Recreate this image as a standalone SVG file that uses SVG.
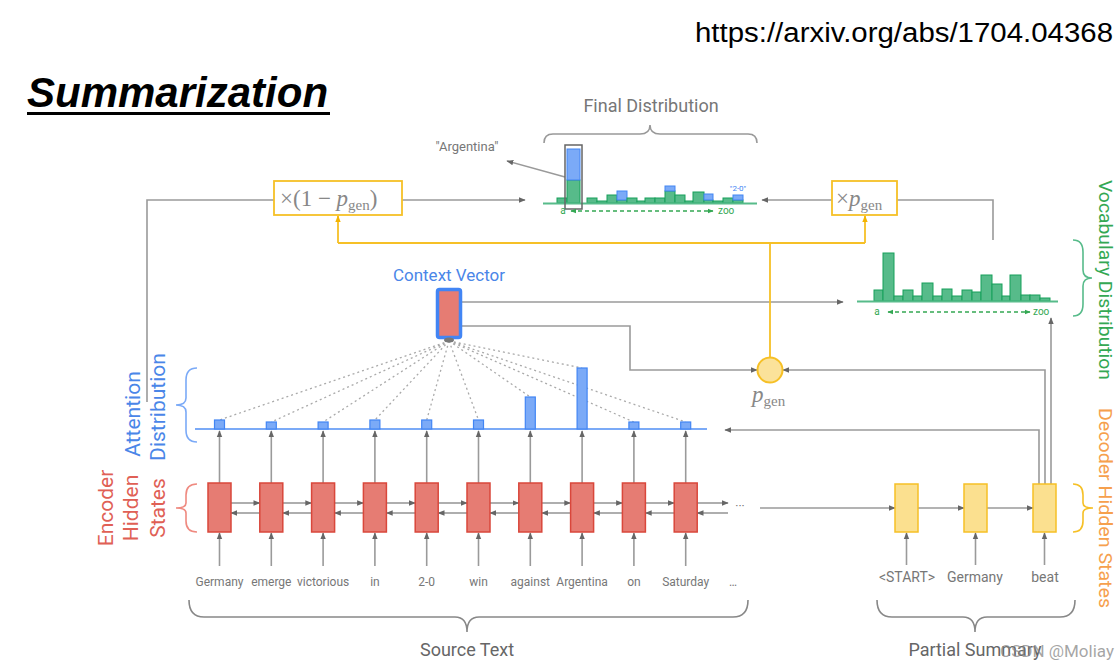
<svg xmlns="http://www.w3.org/2000/svg" width="1120" height="670" viewBox="0 0 1120 670">
<defs>
<marker id="ah" viewBox="0 0 10 10" refX="9" refY="5" markerWidth="7" markerHeight="7" orient="auto" markerUnits="userSpaceOnUse"><path d="M0,1 L10,5 L0,9 z" fill="#666"/></marker>
<marker id="ay" viewBox="0 0 10 10" refX="9" refY="5" markerWidth="7" markerHeight="7" orient="auto" markerUnits="userSpaceOnUse"><path d="M0,1 L10,5 L0,9 z" fill="#f4b400"/></marker>
<marker id="ag" viewBox="0 0 10 10" refX="9" refY="5" markerWidth="6" markerHeight="6" orient="auto-start-reverse" markerUnits="userSpaceOnUse"><path d="M0,1 L10,5 L0,9 z" fill="#34a853"/></marker>
<style>
.ln{fill:none;stroke:#9a9a9a;stroke-width:1.6}
.la{fill:none;stroke:#9a9a9a;stroke-width:1.6;marker-end:url(#ah)}
.yl{fill:none;stroke:#f6c026;stroke-width:1.8}
.ya{fill:none;stroke:#f6c026;stroke-width:1.8;marker-end:url(#ay)}
.dot{fill:none;stroke:#aaa;stroke-width:1.3;stroke-dasharray:2 3}
.enc{fill:#e67c73;stroke:#d9473b;stroke-width:1.5}
.dec{fill:#fbe08f;stroke:#f6c026;stroke-width:1.5}
.att{fill:#7baaf7;stroke:#4285f4;stroke-width:1.2}
.gb{fill:#57bb8a;stroke:#16a05a;stroke-width:1}
.bb{fill:#7baaf7;stroke:#4285f4;stroke-width:1}
.w{font-family:Roboto,"Liberation Sans",sans-serif;font-size:12px;fill:#777;text-anchor:middle}
.wd{font-family:Roboto,"Liberation Sans",sans-serif;font-size:14px;fill:#777;text-anchor:middle}
.lbl{font-family:Roboto,"Liberation Sans",sans-serif;text-anchor:middle}
.math{font-family:"Liberation Serif","DejaVu Serif",serif;fill:#888}
.br{fill:none;stroke-width:1.6}
</style>
</defs>

<!-- titles -->
<text x="27" y="107" font-family="Liberation Sans,Arial,sans-serif" font-size="42" font-weight="bold" font-style="italic" fill="#000">Summarization</text>
<rect x="27" y="112" width="303" height="3" fill="#000"/>
<text x="695" y="42" font-family="Liberation Sans,Arial,sans-serif" font-size="27" fill="#000" textLength="418" lengthAdjust="spacingAndGlyphs">https://arxiv.org/abs/1704.04368</text>

<!-- connectors -->
<g id="connectors">
  <!-- encoder inputs -->
  <line class="la" x1="219.5" y1="566" x2="219.5" y2="533"/>
  <line class="la" x1="271.3" y1="566" x2="271.3" y2="533"/>
  <line class="la" x1="323.1" y1="566" x2="323.1" y2="533"/>
  <line class="la" x1="374.9" y1="566" x2="374.9" y2="533"/>
  <line class="la" x1="426.7" y1="566" x2="426.7" y2="533"/>
  <line class="la" x1="478.5" y1="566" x2="478.5" y2="533"/>
  <line class="la" x1="530.3" y1="566" x2="530.3" y2="533"/>
  <line class="la" x1="582.1" y1="566" x2="582.1" y2="533"/>
  <line class="la" x1="633.9" y1="566" x2="633.9" y2="533"/>
  <line class="la" x1="685.7" y1="566" x2="685.7" y2="533"/>
  <!-- encoder to attention -->
  <line class="la" x1="219.5" y1="483" x2="219.5" y2="431"/>
  <line class="la" x1="271.3" y1="483" x2="271.3" y2="431"/>
  <line class="la" x1="323.1" y1="483" x2="323.1" y2="431"/>
  <line class="la" x1="374.9" y1="483" x2="374.9" y2="431"/>
  <line class="la" x1="426.7" y1="483" x2="426.7" y2="431"/>
  <line class="la" x1="478.5" y1="483" x2="478.5" y2="431"/>
  <line class="la" x1="530.3" y1="483" x2="530.3" y2="431"/>
  <line class="la" x1="582.1" y1="483" x2="582.1" y2="431"/>
  <line class="la" x1="633.9" y1="483" x2="633.9" y2="431"/>
  <line class="la" x1="685.7" y1="483" x2="685.7" y2="431"/>
  <!-- encoder forward -->
  <line class="la" x1="231" y1="503" x2="259.8" y2="503"/>
  <line class="la" x1="282.8" y1="503" x2="311.6" y2="503"/>
  <line class="la" x1="334.6" y1="503" x2="363.4" y2="503"/>
  <line class="la" x1="386.4" y1="503" x2="415.2" y2="503"/>
  <line class="la" x1="438.2" y1="503" x2="467" y2="503"/>
  <line class="la" x1="490" y1="503" x2="518.8" y2="503"/>
  <line class="la" x1="541.8" y1="503" x2="570.6" y2="503"/>
  <line class="la" x1="593.6" y1="503" x2="622.4" y2="503"/>
  <line class="la" x1="645.4" y1="503" x2="674.2" y2="503"/>
  <line class="la" x1="697.2" y1="503" x2="728" y2="503"/>
  <!-- encoder backward -->
  <line class="la" x1="259.8" y1="513" x2="231" y2="513"/>
  <line class="la" x1="311.6" y1="513" x2="282.8" y2="513"/>
  <line class="la" x1="363.4" y1="513" x2="334.6" y2="513"/>
  <line class="la" x1="415.2" y1="513" x2="386.4" y2="513"/>
  <line class="la" x1="467" y1="513" x2="438.2" y2="513"/>
  <line class="la" x1="518.8" y1="513" x2="490" y2="513"/>
  <line class="la" x1="570.6" y1="513" x2="541.8" y2="513"/>
  <line class="la" x1="622.4" y1="513" x2="593.6" y2="513"/>
  <line class="la" x1="674.2" y1="513" x2="645.4" y2="513"/>
  <line class="la" x1="728" y1="513" x2="697.2" y2="513"/>
  <!-- dotted attention lines -->
  <path class="dot" d="M449,341L219.5,420 M449,341L271.3,422 M449,341L323.1,422 M449,341L374.9,420 M449,341L426.7,420 M449,341L478.5,420 M449,341L530.3,397 M449,341L582.1,368 M449,341L633.9,422 M449,341L685.7,422"/>
  <!-- context vector outputs -->
  <path class="la" d="M461,302H843"/>
  <path class="la" d="M461,326H630V370H757"/>
  <!-- decoder -->
  <line class="la" x1="760" y1="508" x2="895" y2="508"/>
  <line class="la" x1="918" y1="508" x2="964" y2="508"/>
  <line class="la" x1="987" y1="508" x2="1033" y2="508"/>
  <line class="la" x1="906.5" y1="565" x2="906.5" y2="533"/>
  <line class="la" x1="975.5" y1="565" x2="975.5" y2="533"/>
  <line class="la" x1="1044.5" y1="565" x2="1044.5" y2="533"/>
  <path class="la" d="M1039,484V430H725"/>
  <path class="la" d="M1045,484V370H783"/>
  <path class="la" d="M1051,484V318"/>
  <!-- to final distribution -->
  <path class="ln" d="M147,402V200H274"/>
  <path class="la" d="M402,200H525"/>
  <path class="la" d="M832,200H762"/>
  <path class="ln" d="M897,200H993V240"/>
  <!-- p_gen yellow -->
  <path class="yl" d="M770,357V243 M338,243H865"/>
  <path class="ya" d="M338,243V216"/>
  <path class="ya" d="M865,243V216"/>
  <!-- argentina pointer -->
  <path class="la" d="M565,177L507,161"/>
</g>

<!-- encoder nodes -->
<g id="encoder">
  <rect id="enc0" class="enc" x="208" y="483" width="23" height="49"/>
  <rect id="enc1" class="enc" x="259.8" y="483" width="23" height="49"/>
  <rect id="enc2" class="enc" x="311.6" y="483" width="23" height="49"/>
  <rect id="enc3" class="enc" x="363.4" y="483" width="23" height="49"/>
  <rect id="enc4" class="enc" x="415.2" y="483" width="23" height="49"/>
  <rect id="enc5" class="enc" x="467" y="483" width="23" height="49"/>
  <rect id="enc6" class="enc" x="518.8" y="483" width="23" height="49"/>
  <rect id="enc7" class="enc" x="570.6" y="483" width="23" height="49"/>
  <rect id="enc8" class="enc" x="622.4" y="483" width="23" height="49"/>
  <rect id="enc9" class="enc" x="674.2" y="483" width="23" height="49"/>
  <text x="740" y="510" class="w" font-size="14">···</text>
</g>

<g id="words">
  <text class="w" x="219.5" y="586">Germany</text>
  <text class="w" x="271.3" y="586">emerge</text>
  <text class="w" x="323.1" y="586">victorious</text>
  <text class="w" x="374.9" y="586">in</text>
  <text class="w" x="426.7" y="586">2-0</text>
  <text class="w" x="478.5" y="586">win</text>
  <text class="w" x="530.3" y="586">against</text>
  <text class="w" x="582.1" y="586">Argentina</text>
  <text class="w" x="633.9" y="586">on</text>
  <text class="w" x="685.7" y="586">Saturday</text>
  <text class="w" x="733" y="586" font-size="14">…</text>
</g>

<!-- attention distribution -->
<g id="attention">
  <line x1="195" y1="429" x2="707" y2="429" stroke="#7baaf7" stroke-width="2"/>
  <rect class="att" x="214.5" y="420" width="10" height="9"/>
  <rect class="att" x="266.3" y="422" width="10" height="7"/>
  <rect class="att" x="318.1" y="422" width="10" height="7"/>
  <rect class="att" x="369.9" y="420" width="10" height="9"/>
  <rect class="att" x="421.7" y="420" width="10" height="9"/>
  <rect class="att" x="473.5" y="420" width="10" height="9"/>
  <rect class="att" x="525.3" y="397" width="10" height="32"/>
  <rect class="att" x="577.1" y="368" width="10" height="61"/>
  <rect class="att" x="628.9" y="422" width="10" height="7"/>
  <rect class="att" x="680.7" y="422" width="10" height="7"/>
</g>

<!-- context vector -->
<g id="context">
  <text class="lbl" x="449" y="281" font-size="17" fill="#4a86e8">Context Vector</text>
  <rect x="437.5" y="289.5" width="23" height="48" rx="2" fill="#e67c73" stroke="#4285f4" stroke-width="3.5"/>
  <ellipse cx="449" cy="340" rx="5" ry="2.5" fill="#777"/>
</g>

<!-- p_gen -->
<g id="pgen">
  <circle cx="770" cy="370" r="12.5" fill="#fbe29a" stroke="#f6c026" stroke-width="2"/>
  <text class="math" x="752" y="402" font-size="23"><tspan font-style="italic">p</tspan><tspan font-size="15" dy="4">gen</tspan></text>
</g>

<!-- multiply boxes -->
<g id="mul1">
  <rect x="274" y="181" width="128" height="34" fill="#fff" stroke="#f6c026" stroke-width="1.8"/>
  <text class="math" x="280" y="206" font-size="23">×(1 − <tspan font-style="italic">p</tspan><tspan font-size="15" dy="4">gen</tspan><tspan dy="-4">)</tspan></text>
</g>
<g id="mul2">
  <rect x="832" y="181" width="65" height="34" fill="#fff" stroke="#f6c026" stroke-width="1.8"/>
  <text class="math" x="836" y="206" font-size="23">×<tspan font-style="italic">p</tspan><tspan font-size="15" dy="4">gen</tspan></text>
</g>

<!-- final distribution -->
<g id="final">
  <text class="lbl" x="651" y="112" font-size="18" fill="#777">Final Distribution</text>
  <path class="br" stroke="#999" d="M544,143Q544,134 553,134L640,134Q650,134 650,125Q650,134 660,134L748,134Q757,134 757,143"/>
  <text class="lbl" x="467" y="151" font-size="13" fill="#777">"Argentina"</text>
  <rect class="gb" x="557" y="198" width="10" height="5"/>
  <rect class="gb" x="567" y="180" width="13" height="23"/>
  <rect class="bb" x="567" y="149" width="13" height="31"/>
  <rect class="gb" x="587" y="198" width="10" height="5"/>
  <rect class="gb" x="597" y="201" width="10" height="2"/>
  <rect class="gb" x="607" y="195" width="10" height="8"/>
  <rect class="gb" x="617" y="200" width="10" height="3"/>
  <rect class="bb" x="617" y="191" width="10" height="9"/>
  <rect class="gb" x="627" y="198" width="10" height="5"/>
  <rect class="gb" x="637" y="201" width="8" height="2"/>
  <rect class="gb" x="645" y="198" width="10" height="5"/>
  <rect class="gb" x="655" y="198" width="10" height="5"/>
  <rect class="gb" x="665" y="191" width="10" height="12"/>
  <rect class="bb" x="665" y="186" width="10" height="5"/>
  <rect class="gb" x="675" y="195" width="10" height="8"/>
  <rect class="gb" x="685" y="201" width="8" height="2"/>
  <rect class="gb" x="693" y="192" width="11" height="11"/>
  <rect class="gb" x="704" y="200" width="9" height="3"/>
  <rect class="bb" x="704" y="194" width="9" height="6"/>
  <rect class="gb" x="713" y="201" width="10" height="2"/>
  <rect class="gb" x="723" y="198" width="10" height="5"/>
  <rect class="gb" x="733" y="200" width="10" height="3"/>
  <rect class="bb" x="733" y="195" width="10" height="5"/>
  <line x1="543" y1="203.5" x2="757" y2="203.5" stroke="#57bb8a" stroke-width="2"/>
  <rect x="565" y="145" width="17" height="64" fill="none" stroke="#666" stroke-width="1.5"/>
  <text x="738" y="191" font-family="Roboto,sans-serif" font-size="8" fill="#4285f4" text-anchor="middle">"2-0"</text>
  <text x="563" y="214" font-family="Roboto,sans-serif" font-size="10" fill="#34a853" text-anchor="middle">a</text>
  <path d="M571,211H713" stroke="#34a853" stroke-width="1.5" stroke-dasharray="4 3" fill="none" marker-start="url(#ag)" marker-end="url(#ag)"/>
  <text x="718" y="214" font-family="Roboto,sans-serif" font-size="10" fill="#34a853">zoo</text>
</g>

<!-- vocabulary distribution -->
<g id="vocab">
  <rect class="gb" x="874" y="290" width="9" height="11"/>
  <rect class="gb" x="883" y="253" width="11" height="48"/>
  <rect class="gb" x="894" y="296" width="9" height="5"/>
  <rect class="gb" x="903" y="290" width="10" height="11"/>
  <rect class="gb" x="913" y="296" width="9" height="5"/>
  <rect class="gb" x="922" y="283" width="11" height="18"/>
  <rect class="gb" x="933" y="296" width="9" height="5"/>
  <rect class="gb" x="942" y="289" width="10" height="12"/>
  <rect class="gb" x="952" y="296" width="10" height="5"/>
  <rect class="gb" x="962" y="290" width="10" height="11"/>
  <rect class="gb" x="972" y="292" width="9" height="9"/>
  <rect class="gb" x="981" y="275" width="11" height="26"/>
  <rect class="gb" x="992" y="284" width="10" height="17"/>
  <rect class="gb" x="1002" y="296" width="8" height="5"/>
  <rect class="gb" x="1010" y="275" width="11" height="26"/>
  <rect class="gb" x="1021" y="295" width="9" height="6"/>
  <rect class="gb" x="1030" y="295" width="10" height="6"/>
  <rect class="gb" x="1040" y="298" width="10" height="3"/>
  <line x1="857" y1="301.5" x2="1058" y2="301.5" stroke="#57bb8a" stroke-width="2"/>
  <text x="877" y="315" font-family="Roboto,sans-serif" font-size="10" fill="#34a853" text-anchor="middle">a</text>
  <path d="M888,312H1030" stroke="#34a853" stroke-width="1.5" stroke-dasharray="4 3" fill="none" marker-start="url(#ag)" marker-end="url(#ag)"/>
  <text x="1033" y="315" font-family="Roboto,sans-serif" font-size="10" fill="#34a853">zoo</text>
</g>

<!-- decoder -->
<g id="decoder">
  <rect id="dec0" class="dec" x="895" y="484" width="23" height="48"/>
  <rect id="dec1" class="dec" x="964" y="484" width="23" height="48"/>
  <rect id="dec2" class="dec" x="1033" y="484" width="23" height="48"/>
  <text class="wd" x="907" y="582">&lt;START&gt;</text>
  <text class="wd" x="975" y="582">Germany</text>
  <text class="wd" x="1045" y="582">beat</text>
</g>

<!-- side labels -->
<g id="labels-left">
  <path class="br" stroke="#ef8a80" d="M197,484Q186,484 186,495L186,503Q186,508 176,508Q186,508 186,513L186,521Q186,532 197,532"/>
  <text class="lbl" transform="translate(113,508) rotate(-90)" font-size="21" fill="#e06055">Encoder</text>
  <text class="lbl" transform="translate(138,508) rotate(-90)" font-size="21" fill="#e06055">Hidden</text>
  <text class="lbl" transform="translate(165,508) rotate(-90)" font-size="21" fill="#e06055">States</text>
  <path class="br" stroke="#7baaf7" d="M197,368Q186,368 186,380L186,398Q186,405 176,405Q186,405 186,412L186,430Q186,442 197,442"/>
  <text class="lbl" transform="translate(140,414) rotate(-90)" font-size="21" fill="#4a86e8">Attention</text>
  <text class="lbl" transform="translate(165,407) rotate(-90)" font-size="21" fill="#4a86e8">Distribution</text>
</g>
<g id="labels-right">
  <path class="br" stroke="#57bb8a" d="M1073,240Q1083,240 1083,252L1083,270Q1083,278 1092,278Q1083,278 1083,286L1083,304Q1083,316 1073,316"/>
  <text class="lbl" transform="translate(1099,280) rotate(90)" font-size="18" fill="#34a853" textLength="200" lengthAdjust="spacingAndGlyphs">Vocabulary Distribution</text>
  <path class="br" stroke="#f6c026" d="M1073,484Q1083,484 1083,495L1083,503Q1083,508 1093,508Q1083,508 1083,513L1083,521Q1083,532 1073,532"/>
  <text class="lbl" transform="translate(1099,508) rotate(90)" font-size="18" fill="#f6a04d" textLength="200" lengthAdjust="spacingAndGlyphs">Decoder Hidden States</text>
</g>

<!-- bottom -->
<g id="bottom">
  <path class="br" stroke="#888" d="M189,600Q189,617 204,617L455,617Q467,617 467,632Q467,617 479,617L733,617Q748,617 748,600"/>
  <text class="lbl" x="467" y="656" font-size="18" fill="#666">Source Text</text>
  <path class="br" stroke="#888" d="M877,600Q877,617 892,617L963,617Q975,617 975,632Q975,617 987,617L1060,617Q1075,617 1075,600"/>
  <text class="lbl" x="975" y="656" font-size="18" fill="#666">Partial Summary</text>
  <text x="1114" y="657" font-family="Roboto,sans-serif" font-size="17" fill="#888" fill-opacity="0.75" text-anchor="end">CSDN @Moliay</text>
</g>
</svg>
